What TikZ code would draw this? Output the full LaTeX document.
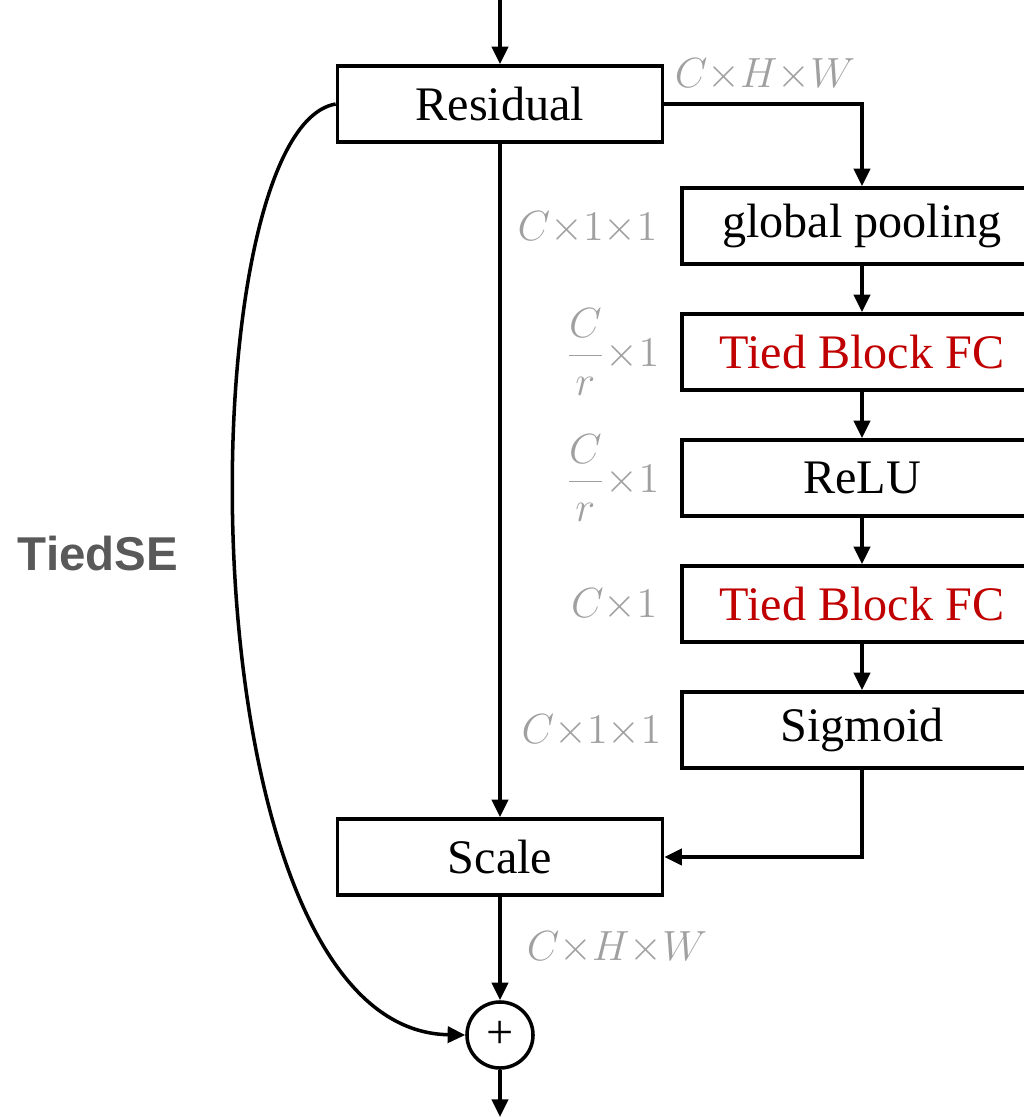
\documentclass[tikz,border=0pt]{standalone}
\usepackage{fontspec}
\setmainfont{Liberation Serif}
\newfontfamily\tagfont{Liberation Sans}
\usetikzlibrary{arrows.meta}
\definecolor{dimgray}{HTML}{A0A0A0}
\definecolor{fcred}{HTML}{C00000}
\definecolor{tagcol}{HTML}{595959}
\tikzset{
  blk/.style={draw,line width=1pt,minimum width=3.25cm,minimum height=0.76cm,inner sep=0pt,font=\fontsize{13.7}{16}\selectfont},
  rblk/.style={blk,minimum width=3.6cm},
  dimlbl/.style={text=dimgray,anchor=east,inner sep=0pt,font=\fontsize{11.5}{13}\selectfont},
  flow/.style={line width=1pt,-{Triangle[length=5pt,width=4.6pt]}}
}
\begin{document}
\begin{tikzpicture}[x=0.01cm,y=-0.01cm]
\useasboundingbox (0,0) rectangle (1024,1117);
% main column
\coordinate (in) at (500,0);
\coordinate (out) at (500,1117);
\node[blk] (res) at (500,104) {Residual};
\node[blk] (scale) at (500,857) {Scale};
\node[draw,circle,line width=1pt,minimum size=0.66cm,inner sep=0pt,font=\fontsize{13.7}{16}\selectfont] (plus) at (500,1035) {+};
% SE branch
\node[rblk] (pool) at (862,226) {global pooling};
\node[rblk,text=fcred] (fca) at (862,352) {Tied Block FC};
\node[rblk] (relu) at (862,478) {ReLU};
\node[rblk,text=fcred] (fcb) at (862,604) {Tied Block FC};
\node[rblk] (sig) at (862,730) {Sigmoid};
% connectors
\draw[flow] (in) -- (res.north);
\draw[flow] (res.south) -- (scale.north);
\draw[flow] (scale.south) -- (plus.north);
\draw[flow] (plus.south) -- (out);
\draw[flow] (res.east) -| (pool.north);
\draw[flow] (pool) -- (fca);
\draw[flow] (fca) -- (relu);
\draw[flow] (relu) -- (fcb);
\draw[flow] (fcb) -- (sig);
\draw[flow] (sig.south) |- (scale.east);
\draw[flow] (res.west) .. controls (185,130) and (180,1030) .. (plus.west);
% sizes
\node[dimlbl,anchor=center] (dtop) at (765,75) {$C{\times}H{\times}W$};
\node[dimlbl] (dpool) at (658,228) {$C{\times}1{\times}1$};
\node[dimlbl] (dfca) at (660,352) {$\displaystyle\frac{C}{r}{\times}1$};
\node[dimlbl] (drelu) at (660,478) {$\displaystyle\frac{C}{r}{\times}1$};
\node[dimlbl] (dfcb) at (658,605) {$C{\times}1$};
\node[dimlbl] (dsig) at (662,731) {$C{\times}1{\times}1$};
\node[dimlbl,anchor=center] (dout) at (617,948) {$C{\times}H{\times}W$};
\node[text=tagcol,font={\tagfont\bfseries\fontsize{13.5}{16}\selectfont}] (tag) at (98,554) {TiedSE};
\end{tikzpicture}
\end{document}
